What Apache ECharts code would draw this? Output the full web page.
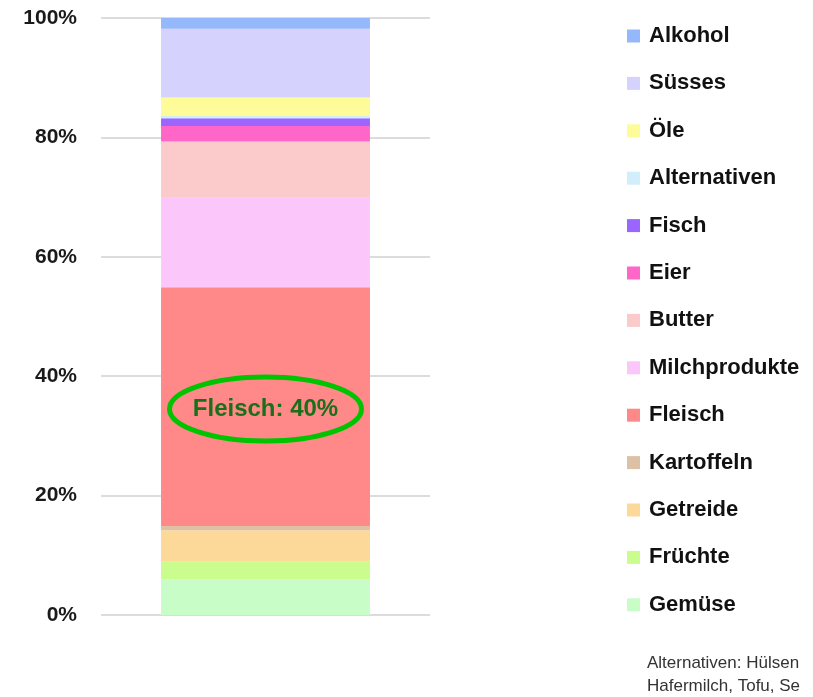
<!DOCTYPE html>
<html>
<head>
<meta charset="utf-8">
<script src="https://cdn.jsdelivr.net/npm/echarts@6/dist/echarts.min.js"></script>
<style>
  html, body { margin: 0; padding: 0; background: #fff; }
  #chart { width: 813px; height: 697px; }
</style>
</head>
<body>
<div id="chart"></div>
<script>
(function(){
	'use strict';

	// Kategorien von unten nach oben gestapelt
	var categories = ['Gemüse','Früchte','Getreide','Kartoffeln','Fleisch','Milchprodukte',
		'Butter','Eier','Fisch','Alternativen','Öle','Süsses','Alkohol'];
	var shares = [6.0, 2.9, 5.3, 0.7, 40.0, 15.0, 9.4, 2.6, 1.3, 0.4, 3.1, 11.5, 1.8];
	var colors = ['#c8fdc8','#cbfd8e','#fcd999','#dcc1a6','#ff8888','#fbc7fb',
		'#fbcaca','#ff66c8','#9a66ff','#d2eefb','#fdfc98','#d5d3fd','#95b7fb'];
	var yTicks = [0, 20, 40, 60, 80, 100];
	var note = ['Alternativen: Hülsen', 'Hafermilch, Tofu, Se'];
	var highlight = { label: 'Fleisch: 40%', at: 34.5 };

	var chart = echarts.init(document.getElementById('chart'));

	var series = categories.map(function(name, i){
		return {
			name: name,
			type: 'bar',
			stack: 'total',
			barWidth: '63.5%',
			itemStyle: { color: colors[i] },
			emphasis: { disabled: true },
			data: [shares[i]]
		};
	});

	chart.setOption({
		animation: false,
		grid: { left: 101, right: 383, top: 18, bottom: 82 },
		legend: {
			orient: 'vertical',
			left: 627,
			top: 25,
			padding: 0,
			itemWidth: 13,
			itemHeight: 13,
			itemGap: 25.4,
			icon: 'rect',
			data: categories.slice().reverse(),
			textStyle: {
				fontFamily: 'Liberation Sans',
				fontWeight: 'bold',
				fontSize: 22,
				lineHeight: 22,
				color: '#111',
				padding: [0, 0, 0, 4]
			}
		},
		xAxis: {
			type: 'category',
			data: ['Anteil'],
			axisLine: { show: false },
			axisTick: { show: false },
			axisLabel: { show: false }
		},
		yAxis: {
			type: 'value',
			min: yTicks[0],
			max: yTicks[yTicks.length - 1],
			interval: 20,
			axisLine: { show: false },
			axisTick: { show: false },
			splitLine: { lineStyle: { color: '#dcdcdc', width: 2 } },
			axisLabel: {
				margin: 24,
				fontFamily: 'Liberation Sans',
				fontWeight: 'bold',
				fontSize: 21,
				color: '#1a1a1a',
				formatter: '{value}%'
			}
		},
		series: series
	});

	// Markierung um den Fleisch-Anteil
	var c = chart.convertToPixel({ xAxisIndex: 0, yAxisIndex: 0 }, ['Anteil', highlight.at]);
	if (!c || !isFinite(c[0]) || !isFinite(c[1])) {
		c = [
			chart.convertToPixel({ xAxisIndex: 0 }, 'Anteil'),
			chart.convertToPixel({ yAxisIndex: 0 }, highlight.at)
		];
	}

	chart.setOption({
		graphic: [
			{
				type: 'ellipse',
				shape: { cx: c[0], cy: c[1], rx: 96, ry: 32 },
				style: { fill: 'none', stroke: '#00c400', lineWidth: 5 },
				z: 100
			},
			{
				type: 'text',
				x: c[0], y: c[1],
				z: 101,
				style: {
					text: highlight.label,
					fontFamily: 'Liberation Sans',
					fontWeight: 'bold',
					fontSize: 24,
					fill: '#1a6f1a',
					align: 'center',
					verticalAlign: 'middle'
				}
			},
			{
				type: 'text',
				left: 647,
				top: 652,
				style: {
					text: note.join('\n'),
					fontFamily: 'Liberation Sans',
					fontSize: 17,
					lineHeight: 23,
					fill: '#333'
				}
			}
		]
	});
}());
</script>
</body>
</html>
